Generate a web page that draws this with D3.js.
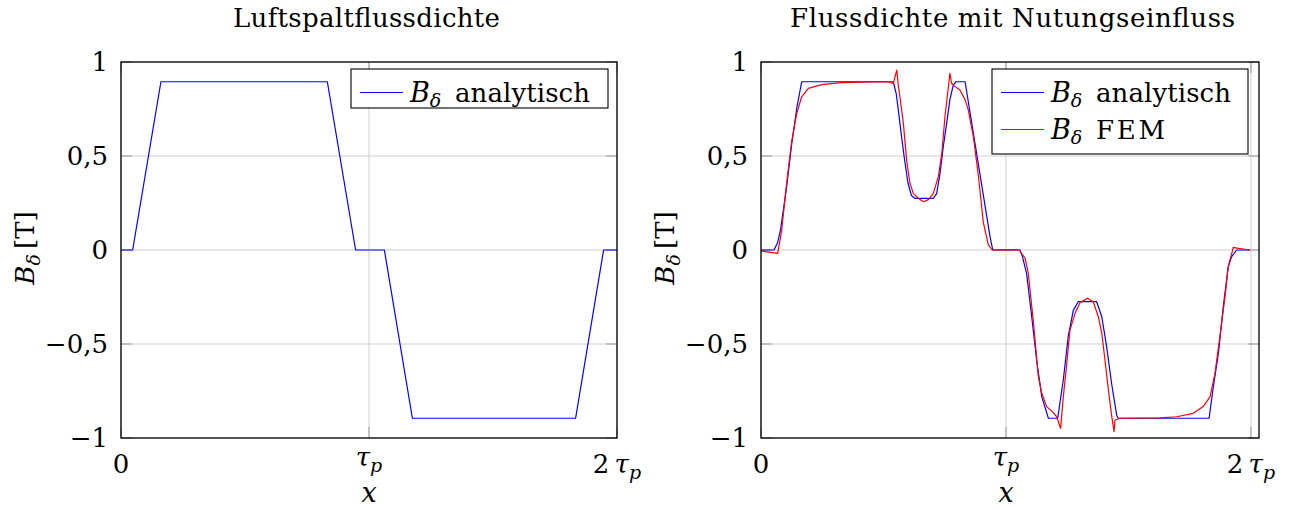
<!DOCTYPE html>
<html><head><meta charset="utf-8">
<script src="https://cdn.jsdelivr.net/npm/d3@7"></script>
<style>
body{margin:0;background:#fff}
svg text{font-family:"DejaVu Serif","Liberation Serif","Noto Serif",serif;fill:#000}
</style>
</head><body>
<svg id="chart" width="1290" height="509"></svg>
<script>
// ---------- data ----------
const yTicks = [-1, -0.5, 0, 0.5, 1];
const yTickLabels = ["\u22121", "\u22120,5", "0", "0,5", "1"];
const xTicks = [0, 1, 2];
const xTickLabels = ["0", "\u03c4p", "2\u2009\u03c4p"];

const titles = ["Luftspaltflussdichte", "Flussdichte mit Nutungseinfluss"];
const seriesNames = ["analytisch", "FEM"];

// left: air-gap flux density (analytic)
const leftX = [0, 0.047, 0.161, 0.832, 0.946, 1.062, 1.175, 1.833, 1.946, 2];
const leftY = [0, 0, 0.895, 0.895, 0, 0, -0.895, -0.895, 0, 0];

// right: with slotting, analytic
const anaX = [0, 0.053, 0.068, 0.08, 0.104, 0.125, 0.146, 0.166, 0.54, 0.552, 0.559, 0.572, 0.586, 0.6, 0.614, 0.627,
  0.703, 0.717, 0.731, 0.744, 0.758, 0.771, 0.785, 0.796, 0.833, 0.935, 0.946,
  1.057, 1.066, 1.084, 1.105, 1.125, 1.146, 1.173, 1.211, 1.234, 1.254, 1.275, 1.295, 1.37, 1.391, 1.411, 1.431, 1.452, 1.458,
  1.829, 1.846, 1.867, 1.887, 1.907, 1.921, 1.942, 1.996];
const anaY = [0, 0, 0.04, 0.11, 0.33, 0.56, 0.755, 0.895, 0.895, 0.83, 0.76, 0.62, 0.48, 0.355, 0.29, 0.275,
  0.275, 0.30, 0.41, 0.55, 0.675, 0.80, 0.878, 0.895, 0.895, 0.07, 0,
  0, -0.03, -0.124, -0.355, -0.585, -0.78, -0.895, -0.895, -0.69, -0.46, -0.32, -0.275, -0.275, -0.355, -0.515, -0.71, -0.88, -0.895,
  -0.895, -0.73, -0.55, -0.3, -0.09, -0.035, 0, 0];

// right: with slotting, FEM
const femX = [0, 0.068, 0.084, 0.105, 0.125, 0.146, 0.166, 0.193, 0.248, 0.329, 0.42, 0.52, 0.54, 0.554, 0.56, 0.567, 0.581,
  0.595, 0.608, 0.622, 0.642, 0.663, 0.683, 0.703, 0.724, 0.738, 0.751, 0.765, 0.771, 0.778, 0.792, 0.812, 0.833,
  0.846, 0.867, 0.887, 0.907, 0.928, 0.944, 0.996, 1.054, 1.078, 1.091, 1.111, 1.132, 1.146, 1.166, 1.193, 1.207,
  1.223, 1.234, 1.248, 1.261, 1.282, 1.302, 1.333, 1.356, 1.377, 1.391, 1.404, 1.418, 1.431, 1.441, 1.445, 1.465,
  1.629, 1.697, 1.764, 1.805, 1.833, 1.853, 1.873, 1.894, 1.907, 1.928, 1.948, 1.996];
const femY = [-0.005, -0.018, 0.10, 0.36, 0.576, 0.727, 0.815, 0.86, 0.88, 0.89, 0.893, 0.895, 0.885, 0.957, 0.88, 0.815, 0.675,
  0.47, 0.355, 0.30, 0.275, 0.257, 0.268, 0.30, 0.39, 0.514, 0.71, 0.869, 0.94, 0.887, 0.869, 0.851, 0.80,
  0.745, 0.60, 0.40, 0.15, 0.027, 0, 0.002, 0, -0.044, -0.124, -0.372, -0.674, -0.762, -0.833, -0.865, -0.887,
  -0.949, -0.78, -0.603, -0.426, -0.337, -0.28, -0.257, -0.275, -0.355, -0.443, -0.585, -0.745, -0.878, -0.966, -0.904, -0.895,
  -0.893, -0.887, -0.869, -0.833, -0.78, -0.656, -0.461, -0.248, -0.089, 0.014, 0.009, 0];

// ---------- layout ----------
const svg = d3.select("#chart");
const plotTop = 62, plotBottom = 438;
const blue = "#0000ff", red = "#ff0000";
const zip = (xs, ys) => xs.map((x, i) => [x, ys[i]]);

const panels = [
  { x0: 121, x1: 617, xmax: 2, title: titles[0], titleX: 233, titleLen: 267,
    series: [{ data: zip(leftX, leftY), color: blue, name: seriesNames[0] }],
    legend: { x: 351, y: 69, w: 257, rowH: 37 } },
  { x0: 761, x1: 1259, xmax: 2.0327, title: titles[1], titleX: 790, titleLen: 445,
    series: [{ data: zip(anaX, anaY), color: blue, name: seriesNames[0] },
             { data: zip(femX, femY), color: red, name: seriesNames[1] }],
    legend: { x: 992, y: 69, w: 256, rowH: 37 } }
];

const y = d3.scaleLinear().domain([-1, 1]).range([plotBottom, plotTop]);

panels.forEach(p => {
  const x = d3.scaleLinear().domain([0, p.xmax]).range([p.x0, p.x1]);
  const g = svg.append("g");

  // grid
  g.selectAll(".gy").data(yTicks).enter().append("line")
    .attr("x1", p.x0).attr("x2", p.x1).attr("y1", d => y(d)).attr("y2", d => y(d))
    .attr("stroke", "#cfcfcf").attr("stroke-width", 1);
  g.selectAll(".gx").data(xTicks).enter().append("line")
    .attr("x1", d => x(d)).attr("x2", d => x(d)).attr("y1", plotTop).attr("y2", plotBottom)
    .attr("stroke", "#cfcfcf").attr("stroke-width", 1);

  // inner ticks
  const tl = 11, tc = "#9a9a9a";
  yTicks.forEach(v => {
    g.append("line").attr("x1", p.x0).attr("x2", p.x0 + tl).attr("y1", y(v)).attr("y2", y(v)).attr("stroke", tc);
    g.append("line").attr("x1", p.x1 - tl).attr("x2", p.x1).attr("y1", y(v)).attr("y2", y(v)).attr("stroke", tc);
  });
  xTicks.forEach(v => {
    g.append("line").attr("x1", x(v)).attr("x2", x(v)).attr("y1", plotBottom - tl).attr("y2", plotBottom).attr("stroke", tc);
    g.append("line").attr("x1", x(v)).attr("x2", x(v)).attr("y1", plotTop).attr("y2", plotTop + tl).attr("stroke", tc);
  });

  // series
  const line = d3.line().x(d => x(d[0])).y(d => y(d[1]));
  p.series.forEach(s => {
    g.append("path").datum(s.data).attr("d", line)
      .attr("fill", "none").attr("stroke", s.color).attr("stroke-width", 1.2).attr("stroke-linejoin", "round");
  });

  // frame
  g.append("rect").attr("x", p.x0).attr("y", plotTop).attr("width", p.x1 - p.x0).attr("height", plotBottom - plotTop)
    .attr("fill", "none").attr("stroke", "#000").attr("stroke-width", 1.3);

  // y tick labels
  g.selectAll(".yl").data(yTicks).enter().append("text")
    .attr("x", p.x0 - 13).attr("y", d => y(d) + 9)
    .attr("text-anchor", "end").attr("font-size", 26)
    .text((d, i) => yTickLabels[i]);

  // x tick labels
  xTicks.forEach((v, i) => {
    const s = xTickLabels[i];
    const t = g.append("text").attr("x", x(v)).attr("text-anchor", "middle").attr("font-size", 26);
    if (s.includes("\u03c4")) {
      const prefix = s.split("\u03c4")[0];
      t.attr("y", prefix === "" ? 466 : 473);
      if (prefix) t.append("tspan").text(prefix);
      t.append("tspan").attr("font-style", "italic").text("\u03c4");
      t.append("tspan").attr("font-style", "italic").attr("font-size", 19).attr("dy", 6).text(s.split("\u03c4")[1]);
    } else {
      t.attr("y", 473).text(s);
    }
  });

  // x label
  g.append("text").attr("x", (p.x0 + x(2)) / 2).attr("y", 502).attr("text-anchor", "middle")
    .attr("font-size", 27).attr("font-style", "italic").text("x");

  // y label
  const yl = g.append("text").attr("transform", `translate(${p.x0 - 87},${(plotTop + plotBottom) / 2 - 2}) rotate(-90)`)
    .attr("text-anchor", "middle").attr("font-size", 26);
  yl.append("tspan").attr("font-style", "italic").text("B");
  yl.append("tspan").attr("font-style", "italic").attr("font-size", 19).attr("dy", 6).text("\u03b4");
  yl.append("tspan").attr("dy", -6).text("\u2009[T]");

  // title
  g.append("text").attr("x", p.titleX).attr("y", 27).attr("font-size", 26)
    .attr("textLength", p.titleLen).attr("lengthAdjust", "spacing").text(p.title);

  // legend
  const L = p.legend, n = p.series.length;
  const lg = g.append("g");
  lg.append("rect").attr("x", L.x).attr("y", L.y).attr("width", L.w).attr("height", 39 + (n - 1) * L.rowH + (n > 1 ? 9 : 0))
    .attr("fill", "#fff").attr("stroke", "#000").attr("stroke-width", 1.1);
  p.series.forEach((s, i) => {
    const cy = L.y + 23.5 + i * L.rowH;
    lg.append("line").attr("x1", L.x + 9).attr("x2", L.x + 52).attr("y1", cy).attr("y2", cy)
      .attr("stroke", s.color).attr("stroke-width", 1.2);
    const t = lg.append("text").attr("x", L.x + 59).attr("y", cy + 9).attr("font-size", 27);
    t.append("tspan").attr("font-style", "italic").text("B");
    t.append("tspan").attr("font-style", "italic").attr("font-size", 19).attr("dy", 5).text("\u03b4");
    lg.append("text").attr("x", L.x + 104).attr("y", cy + 9).attr("font-size", 26)
      .attr("textLength", s.name === "FEM" ? 69 : 135).attr("lengthAdjust", "spacing").text(s.name);
  });
});
</script>
</body></html>
